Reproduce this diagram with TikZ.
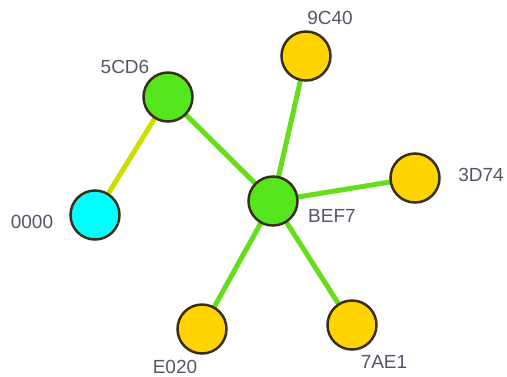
\documentclass[tikz,border=0pt]{standalone}
\usepackage{fontspec}
\setmainfont{Liberation Sans}
\usetikzlibrary{backgrounds}
\definecolor{ngreen}{HTML}{55E61E}
\definecolor{nyellow}{HTML}{FFD400}
\definecolor{ncyan}{HTML}{00FFFF}
\definecolor{nborder}{HTML}{3A2E1A}
\definecolor{egreen}{HTML}{66DD1A}
\definecolor{eyellow}{HTML}{CCDD00}
\definecolor{ltext}{HTML}{555566}
\tikzset{
  vert/.style={circle, draw=nborder, line width=2.5pt, minimum size=49pt, inner sep=0pt},
  lab/.style={text=ltext, font=\fontsize{19}{19}\selectfont, inner sep=0pt},
  edge/.style={line width=5pt, draw=egreen},
}
\begin{document}
\begin{tikzpicture}[x=1pt,y=-1pt]
\useasboundingbox (0,0) rectangle (507,376);
\node[vert, fill=nyellow] (n9C40) at (306,56) {};
\node[vert, fill=ngreen] (n5CD6) at (168,97) {};
\node[vert, fill=ngreen] (nBEF7) at (273,201) {};
\node[vert, fill=nyellow] (n3D74) at (415,178) {};
\node[vert, fill=ncyan] (n0000) at (95,215) {};
\node[vert, fill=nyellow] (nE020) at (202,329) {};
\node[vert, fill=nyellow] (n7AE1) at (352,325) {};
\node[lab] (l9C40) at (330,18) {9C40};
\node[lab] (l5CD6) at (125,67) {5CD6};
\node[lab] (l3D74) at (481,175) {3D74};
\node[lab] (lBEF7) at (332,216) {BEF7};
\node[lab] (l0000) at (32,222) {0000};
\node[lab] (lE020) at (175,367) {E020};
\node[lab] (l7AE1) at (384,362) {7AE1};
\begin{scope}[on background layer]
\draw[edge, draw=eyellow] (n5CD6.center) -- (n0000.center);
\draw[edge] (n5CD6.center) -- (nBEF7.center);
\draw[edge] (n9C40.center) -- (nBEF7.center);
\draw[edge] (n3D74.center) -- (nBEF7.center);
\draw[edge] (nE020.center) -- (nBEF7.center);
\draw[edge] (n7AE1.center) -- (nBEF7.center);
\end{scope}
\end{tikzpicture}
\end{document}
